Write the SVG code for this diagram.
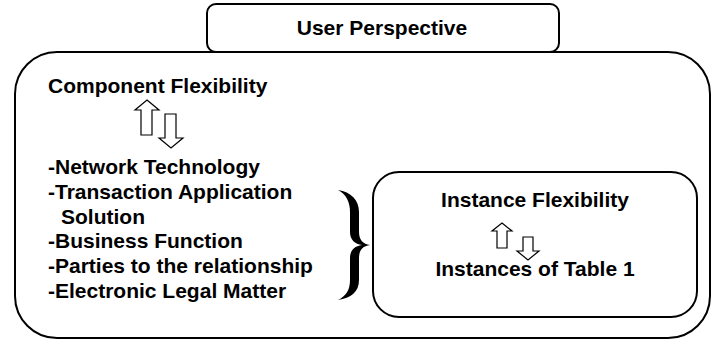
<svg xmlns="http://www.w3.org/2000/svg" width="717" height="339" viewBox="0 0 717 339">
  <style>
    .box { fill: #ffffff; stroke: #000000; stroke-width: 2; }
    .txt { font-family: "Liberation Sans", Arial, sans-serif; font-weight: bold; font-size: 21px; fill: #000000; }
    .arrow { fill: #ffffff; stroke: #000000; stroke-width: 1.2; stroke-linejoin: miter; }
    .brace { fill: #000000; stroke: none; }
  </style>
  <rect width="717" height="339" fill="#ffffff"/>
  <g id="user-perspective-container">
    <rect class="box" x="15" y="52" width="695" height="286" rx="42" ry="42"/>
  </g>
  <g id="user-perspective">
    <rect class="box" x="207" y="4" width="352" height="48" rx="9" ry="9"/>
    <text class="txt" x="382" y="35" text-anchor="middle">User Perspective</text>
  </g>
  <g id="component-flexibility">
    <text class="txt" x="48" y="93">Component Flexibility</text>
  </g>
  <g id="component-list">
    <text class="txt" x="48" y="174">-Network Technology</text>
    <text class="txt" x="48" y="199">-Transaction Application</text>
    <text class="txt" x="61" y="224">Solution</text>
    <text class="txt" x="48" y="248">-Business Function</text>
    <text class="txt" x="48" y="273">-Parties to the relationship</text>
    <text class="txt" x="48" y="298">-Electronic Legal Matter</text>
  </g>
  <g id="instance-flexibility">
    <rect class="box" x="373" y="172" width="324" height="145" rx="26" ry="26"/>
    <text class="txt" x="535" y="207" text-anchor="middle">Instance Flexibility</text>
    <text class="txt" x="535" y="276" text-anchor="middle">Instances of Table 1</text>
  </g>
  <g id="connectors">
    <polygon class="arrow" points="147,100 159,110 152,110 152,135 141,135 141,110 135,110"/>
    <polygon class="arrow" points="165,114 176,114 176,138 183,138 171,148 159,138 165,138"/>
    <polygon class="arrow" points="502,223 512,231 507,231 507,248 497,248 497,231 492,231"/>
    <polygon class="arrow" points="523,237 533,237 533,251 539,251 528,260 517,251 523,251"/>
    <path class="brace" d="M338,190 C351,192 359,200 359,212 L359,232 C359,240 363,244 370,245 C363,246 359,250 359,258 L359,280 C359,292 351,298 338,300 C346,296 350,290 350,280 L350,258 C350,250 355,246 362,245 C355,244 350,240 350,232 L350,212 C350,202 346,194 338,190 Z"/>
  </g>
</svg>
